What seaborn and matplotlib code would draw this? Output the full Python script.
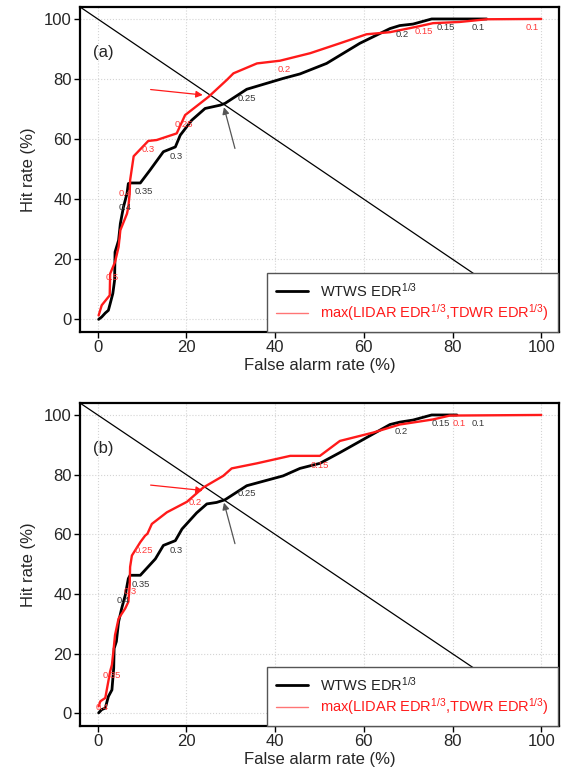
import matplotlib
matplotlib.use("Agg")
import matplotlib.pyplot as plt
from matplotlib.lines import Line2D
import seaborn as sns
import pandas as pd

# ---------------- data ----------------
# Panel (a)
a_wtws_far = [0.2, 0.9, 1.7, 2.4, 2.8, 3.4, 3.8, 3.9, 4.7, 5.1, 5.8, 6.6, 6.9, 7.5, 9.6, 11.8, 14.8, 17.5,
              18.6, 21.2, 24.2, 27.6, 28.7, 33.6, 41.8, 45.6, 51.6, 59.1, 65.9, 68.1, 71.1, 75.3, 87.7]
a_wtws_hit = [0.0, 0.8, 2.1, 3.0, 5.2, 8.6, 13.0, 22.4, 26.3, 31.9, 37.4, 41.9, 45.2, 45.4, 45.4, 49.7, 55.8, 57.4,
              61.3, 66.3, 70.2, 71.3, 71.9, 76.6, 80.2, 81.7, 85.2, 91.9, 96.8, 97.8, 98.3, 100.0, 100.0]
a_max_far = [0.2, 0.9, 2.7, 2.8, 3.9, 4.7, 5.1, 6.6, 6.9, 7.2, 7.3, 8.1, 11.4, 13.3, 17.8, 19.7, 25.0, 29.1,
             30.6, 35.9, 41.1, 47.9, 54.6, 60.6, 65.9, 71.9, 75.6, 81.6, 87.7, 100.0]
a_max_hit = [1.3, 4.7, 8.0, 15.2, 19.1, 24.1, 29.7, 35.2, 37.4, 41.9, 46.3, 54.3, 59.4, 59.7, 61.9, 68.0, 74.1, 79.7,
             81.9, 85.2, 86.1, 88.6, 91.9, 94.9, 95.6, 97.4, 98.6, 99.0, 99.9, 100.0]

# Panel (b)
b_wtws_far = [0.2, 0.9, 1.7, 2.4, 3.2, 3.6, 3.7, 4.2, 4.7, 5.4, 6.2, 6.9, 7.3, 9.6, 13.0, 14.8, 17.5, 19.0,
              22.3, 24.6, 26.8, 28.7, 33.6, 41.8, 45.6, 50.1, 54.6, 60.6, 65.9, 68.1, 71.1, 75.3, 81.0]
b_wtws_hit = [0.2, 1.3, 1.8, 5.7, 7.9, 15.2, 21.8, 24.1, 30.7, 35.2, 39.6, 45.2, 46.3, 46.3, 51.8, 56.3, 57.9, 61.8,
              67.2, 70.2, 70.7, 71.6, 76.3, 79.6, 82.1, 83.8, 87.4, 92.4, 96.8, 97.6, 98.3, 100.0, 100.0]
b_max_far = [0.2, 0.6, 1.7, 2.8, 3.2, 3.6, 3.9, 4.7, 6.2, 6.9, 7.2, 7.3, 7.7, 9.6, 10.7, 11.2, 12.2, 15.6, 20.1,
             23.8, 28.3, 30.2, 35.9, 43.4, 50.1, 54.6, 62.1, 68.1, 75.6, 79.4, 100.0]
b_max_hit = [2.4, 4.1, 5.2, 14.1, 16.3, 21.8, 26.3, 31.8, 35.2, 37.4, 42.9, 49.1, 52.9, 57.4, 59.6, 60.2, 63.5, 67.4,
             70.9, 75.7, 79.6, 82.1, 83.8, 86.3, 86.3, 91.3, 94.1, 96.8, 98.5, 99.8, 100.0]

# Threshold labels (text, far, hit)
a_wtws_lbl = ["0.4", "0.35", "0.3", "0.25", "0.2", "0.15", "0.1"]
a_wtws_lx = [6.2, 10.3, 17.7, 33.6, 68.7, 78.4, 85.8]
a_wtws_ly = [37.4, 42.7, 54.3, 73.6, 94.9, 97.2, 97.2]
a_max_lbl = ["0.5", "0.4", "0.3", "0.25", "0.2", "0.15", "0.1"]
a_max_lx = [3.3, 6.3, 11.4, 19.5, 42.1, 73.6, 97.9]
a_max_ly = [14.0, 42.0, 56.6, 65.0, 83.2, 95.8, 97.2]

b_wtws_lbl = ["0.4", "0.35", "0.3", "0.25", "0.2", "0.15", "0.1"]
b_wtws_lx = [5.8, 9.8, 17.7, 33.6, 68.5, 77.3, 85.8]
b_wtws_ly = [37.9, 43.2, 54.6, 73.7, 94.6, 97.2, 97.2]
b_max_lbl = ["0.4", "0.35", "0.3", "0.25", "0.2", "0.15", "0.1"]
b_max_lx = [0.9, 3.2, 7.3, 10.3, 22.0, 50.1, 81.5]
b_max_ly = [2.1, 12.6, 40.9, 54.6, 70.7, 83.2, 97.2]

ticks = [0, 20, 40, 60, 80, 100]
panel_names = ["(a)", "(b)"]
legend_labels = [r"WTWS EDR$^{1/3}$", r"max(LIDAR EDR$^{1/3}$,TDWR EDR$^{1/3}$)"]

# ---------------- style ----------------
sns.set_theme(style="ticks")
plt.rcParams["font.family"] = ["Liberation Sans", "DejaVu Sans"]
plt.rcParams["mathtext.fontset"] = "custom"
plt.rcParams["mathtext.rm"] = "Liberation Sans"
plt.rcParams["mathtext.it"] = "Liberation Sans"

fig = plt.figure(figsize=(5.61, 7.8), dpi=100)
ax1 = fig.add_axes([0.1426, 0.5744, 0.8538, 0.4167])
ax2 = fig.add_axes([0.1426, 0.0692, 0.8538, 0.4141])

RED = "#ff1a1a"


def draw(ax, wf, wh, mf, mh, wl, wlx, wly, ml, mlx, mly, name):
    ax.set_xlim(-4, 104)
    ax.set_ylim(-4.2, 104)
    ax.set_xticks(ticks)
    ax.set_yticks(ticks)
    ax.grid(True, color="#d4d4d4", ls=":", lw=0.8)
    ax.set_axisbelow(True)
    ax.axline((0, 100), slope=-1, color="black", lw=0.9, zorder=2)
    dfw = pd.DataFrame({"far": wf, "hit": wh})
    dfm = pd.DataFrame({"far": mf, "hit": mh})
    sns.lineplot(data=dfw, x="far", y="hit", ax=ax, color="black", lw=2.0,
                 sort=False, estimator=None, zorder=3)
    sns.lineplot(data=dfm, x="far", y="hit", ax=ax, color=RED, lw=1.7,
                 sort=False, estimator=None, zorder=4)
    for t, x, y in zip(wl, wlx, wly):
        ax.text(x, y, t, color="#3a3a3a", fontsize=6.8, ha="center", va="center", zorder=5)
    for t, x, y in zip(ml, mlx, mly):
        ax.text(x, y, t, color="#ff3b3b", fontsize=6.8, ha="center", va="center", zorder=5)
    ax.text(-1, 88.7, name, fontsize=12, ha="left", va="center")
    ax.annotate("", xy=(24.3, 74.6), xytext=(11.3, 76.6),
                arrowprops=dict(arrowstyle="-|>", color=RED, lw=0.9, mutation_scale=10), zorder=6)
    ax.annotate("", xy=(28.3, 71.5), xytext=(31.1, 56.0),
                arrowprops=dict(arrowstyle="-|>", color="#555555", lw=0.9, mutation_scale=10), zorder=6)
    ax.set_xlabel("False alarm rate (%)", fontsize=12, labelpad=2)
    ax.set_ylabel("Hit rate (%)", fontsize=12, labelpad=6)
    ax.tick_params(axis="both", labelsize=12, direction="out", length=4, width=1, color="black", pad=2)
    for s in ax.spines.values():
        s.set_linewidth(1.6)
        s.set_color("black")
    handles = [Line2D([], [], color="black", lw=2.0),
               Line2D([], [], color=RED, lw=1.0, alpha=0.6)]
    leg = ax.legend(handles, legend_labels, loc="lower right", bbox_to_anchor=(0.997, 0.0),
                    borderaxespad=0.0, fontsize=10.5, frameon=True, fancybox=False,
                    handlelength=2.2, borderpad=0.6, labelspacing=0.2)
    leg.get_frame().set_edgecolor("#555555")
    leg.get_frame().set_linewidth(1.0)
    leg.get_frame().set_alpha(1)
    leg.get_texts()[0].set_color("#222222")
    leg.get_texts()[1].set_color(RED)
    leg.set_zorder(10)


draw(ax1, a_wtws_far, a_wtws_hit, a_max_far, a_max_hit,
     a_wtws_lbl, a_wtws_lx, a_wtws_ly, a_max_lbl, a_max_lx, a_max_ly, panel_names[0])
draw(ax2, b_wtws_far, b_wtws_hit, b_max_far, b_max_hit,
     b_wtws_lbl, b_wtws_lx, b_wtws_ly, b_max_lbl, b_max_lx, b_max_ly, panel_names[1])

fig.savefig("out.png", dpi=100)
